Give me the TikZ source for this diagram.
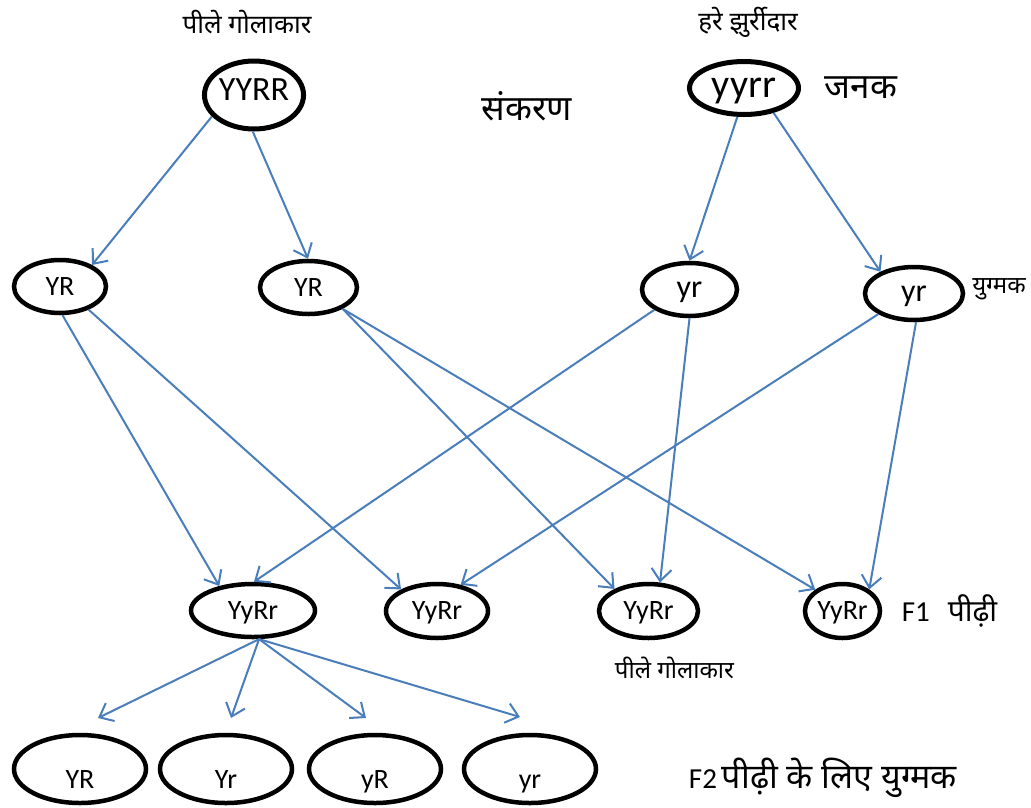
\documentclass[tikz,border=0pt]{standalone}
\usepackage{fontspec}
\setmainfont{Carlito}
\newfontfamily\hin[Script=Devanagari]{Noto Sans}
\usetikzlibrary{shapes.geometric,arrows.meta,calc}
\definecolor{lineblue}{RGB}{74,126,187}

\begin{document}
\begin{tikzpicture}[x=1pt,y=-1pt,
  cell/.style={draw,ellipse,line width=4.5pt,inner sep=0pt,text depth=0pt,font=\fontsize{28}{32}\selectfont},
  gene/.style={draw=lineblue,line width=2pt,-{Straight Barb[length=12pt,width=20pt]}},
  hsmall/.style={font=\hin\fontsize{26}{30}\selectfont},
  hbig/.style={font=\hin\fontsize{35}{40}\selectfont},
  hgen/.style={font=\fontsize{29}{34}\selectfont}]

\useasboundingbox (0,0) rectangle (1031,807);

\node [cell,line width=5pt,minimum width=98pt,minimum height=68pt,text height=10pt,font=\fontsize{34}{40}\selectfont] (yellow) at (254,95) {YYRR};
\node [cell,line width=5pt,minimum width=109pt,minimum height=53pt,font=\fontsize{40}{44}\selectfont] (green) at (744,88) {yyrr};

\node [hsmall] (yellowname) at ($(yellow)+(-7,-73)$) {पीले गोलाकार};
\node [hsmall] (greenname) at ($(green)+(4,-66)$) {हरे झुर्रीदार};
\node [hbig] (cross) at (527,106) {संकरण};
\node [hbig] (parents) at ($(green)+(117,0)$) {जनक};

\node [cell,minimum width=92pt,minimum height=53pt] (ga1) at (60,286.5) {YR};
\node [cell,minimum width=97pt,minimum height=53pt] (ga2) at (308.5,287.5) {YR};
\node [cell,minimum width=95pt,minimum height=53pt,font=\fontsize{32}{36}\selectfont] (gb1) at (689.5,289.5) {yr};
\node [cell,minimum width=98pt,minimum height=53pt,font=\fontsize{32}{36}\selectfont] (gb2) at (914,293.5) {yr};
\node [hsmall,font=\hin\fontsize{24}{28}\selectfont] (gamete) at ($(gb2)+(85,-4)$) {युग्मक};

\node [cell,minimum width=124pt,minimum height=53pt] (fa) at (253,610.5) {YyRr};
\node [cell,minimum width=102pt,minimum height=54pt] (fb) at (437,611) {YyRr};
\node [cell,minimum width=99pt,minimum height=54pt] (fc) at (648.5,611) {YyRr};
\node [cell,minimum width=75pt,minimum height=54pt] (fd) at (842.5,611) {YyRr};
\node [hgen] (fone) at ($(fd)+(107,0)$) {F1\hspace{18pt}{\hin\fontsize{30}{34}\selectfont पीढ़ी}};
\node [hsmall,font=\hin\fontsize{24}{28}\selectfont] (fonename) at ($(fc)+(26,57)$) {पीले गोलाकार};

\node [cell,minimum width=132pt,minimum height=68pt,text height=38pt] (ea) at (80,769) {YR};
\node [cell,minimum width=132pt,minimum height=68pt,text height=38pt] (eb) at (226,769) {Yr};
\node [cell,minimum width=132pt,minimum height=68pt,text height=38pt] (ec) at (375,769) {yR};
\node [cell,minimum width=132pt,minimum height=68pt,text height=38pt] (ed) at (530,769) {yr};
\node [hgen] (ftwo) at (823,778) {F2\hspace{5pt}{\hin\fontsize{34}{40}\selectfont पीढ़ी के लिए युग्मक}};

\coordinate (ta) at (98,718);
\coordinate (tb) at (231,718);
\coordinate (tc) at (366,718);
\coordinate (td) at (520,717);

\draw [gene] (yellow.207) -- (ga1.34);
\draw [gene] (yellow.268) -- (ga2.91);
\draw [gene] (green.257) -- (gb1.90);
\draw [gene] (green.320) -- (gb2.147);

\draw [gene] (ga1.275) -- (fa.144);
\draw [gene] (ga1.321) -- (fb.149);
\draw [gene] (ga2.328) -- (fc.147);
\draw [gene] (ga2.328) -- (fd.142);
\draw [gene] (gb1.210) -- (fa.88);
\draw [gene] (gb1.270) -- (fc.68);
\draw [gene] (gb2.210) -- (fb.48);
\draw [gene] (gb2.274) -- (fd.39);

\draw [gene] (fa.282) -- (ta);
\draw [gene] (fa.282) -- (tb);
\draw [gene] (fa.282) -- (tc);
\draw [gene] (fa.282) -- (td);

\end{tikzpicture}
\end{document}
